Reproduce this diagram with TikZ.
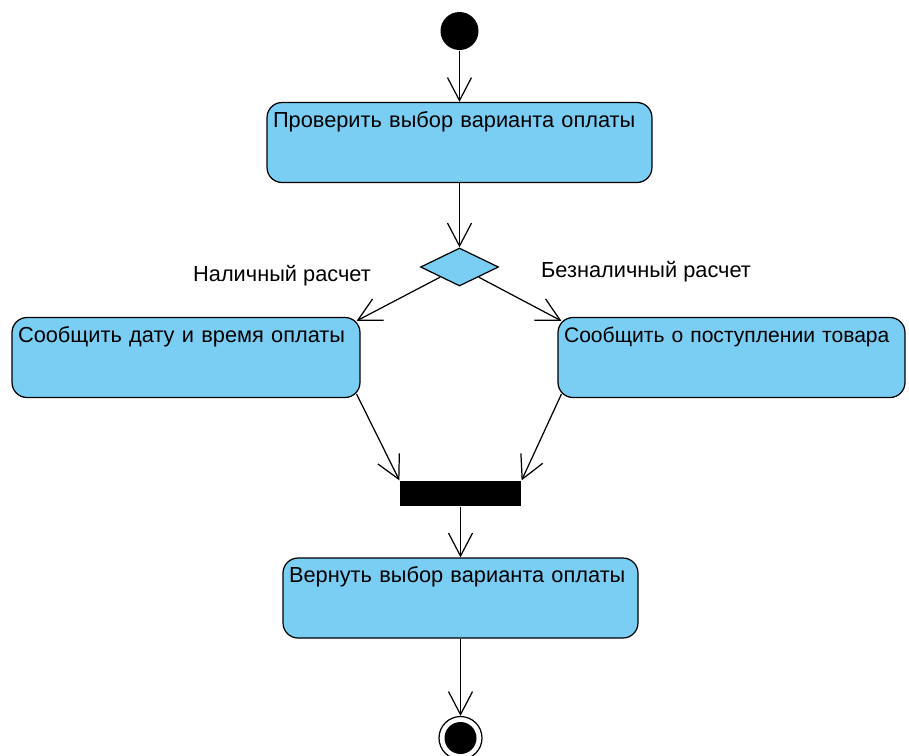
\documentclass[tikz,border=0pt]{standalone}
\usepackage{fontspec}
\setmainfont{Liberation Sans}
\usetikzlibrary{arrows.meta,shapes.geometric}

\begin{document}
\begin{tikzpicture}[x=0.02cm, y=-0.02cm, line width=0.7pt,
    font=\fontsize{12.4}{15}\selectfont,
    act/.style={draw, fill=act_blue, rounded corners=0.3cm, align=left,
        inner xsep=0.12cm, inner ysep=0.16cm, text height=0.33cm, text depth=0.95cm},
    flow/.style={-{Straight Barb[length=0.46cm, width=0.48cm]}},
    ]
    \definecolor{act_blue}{HTML}{7ACEF4}
    %\draw[help lines] (0,0) grid[step=50] (909,755);
    \useasboundingbox (0,0) rectangle (909,755);

    % initial and final states
    \node[circle, fill=black, minimum size=0.76cm, inner sep=0] (start) at (459.5,31) {};
    \node[circle, draw, minimum size=0.86cm, inner sep=0] (end) at (460.5,738) {};
    \fill (end.center) circle (0.32cm);

    % actions
    \node[act, text width=7.46cm] (check) at (459.5,142.5) {Проверить выбор варианта оплаты};
    \node[act, text width=6.72cm] (cash) at (186,357.5) {Сообщить дату и время оплаты};
    \node[act, text width=6.70cm, font=\fontsize{12}{15}\selectfont] (card) at (731.5,357.5) {\mbox{Сообщить о поступлении товара}};
    \node[act, text width=6.86cm] (ret) at (460.5,598) {Вернуть выбор варианта оплаты};

    % decision and join
    \node[diamond, draw, fill=act_blue, minimum width=1.56cm, minimum height=0.76cm, inner sep=0] (choice) at (459.5,267) {};
    \node[fill=black, minimum width=2.42cm, minimum height=0.5cm, inner sep=0] (join) at (460.5,493.5) {};

    % guards
    \node (cashlbl) at (282,276) {Наличный расчет};
    \node (cardlbl) at (646,272) {Безналичный расчет};

    \draw[flow] (start) -- (check);
    \draw[flow] (check) -- (choice);
    \draw[flow] (choice) -- ([shift={(-4,4)}]cash.north east);
    \draw[flow] (choice) -- ([shift={(4,4)}]card.north west);
    \draw[flow] ([shift={(-4,-4)}]cash.south east) -- (join.north west);
    \draw[flow] ([shift={(4,-4)}]card.south west) -- (join.north east);
    \draw[flow] (join) -- (ret);
    \draw[flow] (ret) -- (end);
\end{tikzpicture}
\end{document}
